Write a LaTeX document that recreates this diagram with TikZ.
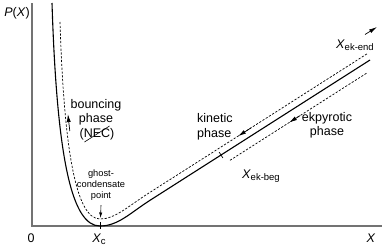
\documentclass[tikz,border=0pt]{standalone}
\usepackage{fontspec}
\setmainfont{Liberation Sans}
\usetikzlibrary{arrows.meta}
\newcommand{\Xsub}[1]{\textit{X}\kern-0.2pt\raisebox{-0.35ex}{\fontsize{9.5}{9.5}\selectfont #1}}

\begin{document}
\begin{tikzpicture}[x=1pt, y=-1pt,
    axis/.style={draw=black!55, line width=1.4pt},
    potential/.style={line width=1.1pt},
    track/.style={line width=0.7pt, dash pattern=on 2.2pt off 1.6pt},
    flow/.style={line width=0.7pt, -{Latex[length=8pt, width=4pt]}},
    lbl/.style={font=\fontsize{12.5}{14.5}\selectfont, align=center, inner sep=0pt},
    small/.style={font=\fontsize{9.3}{10.8}\selectfont, align=center, inner sep=0pt}]
    \useasboundingbox (0,0) rectangle (382,247);

    % Axes
    \coordinate (O) at (32,226);
    \coordinate (top) at (32,3);
    \coordinate (right) at (382,226);
    \draw[axis] (top) -- (O) -- (right);
    \node[lbl, anchor=east] (P) at (30,13) {\textit{P}(\textit{X})};
    \node[lbl, anchor=base] (zero) at (31,242) {0};
    \node[lbl, anchor=base] (Xlab) at (371,242) {\textit{X}};

    % P(X) curve with its minimum at X_c
    \coordinate (Xc) at (100,226);
    \coordinate (beg) at (221,155);
    \draw[potential] (52,3) .. controls (57,160) and (72,226) .. (Xc)
        .. controls (118,226) and (130,213.1) .. (150,200.3) -- (370,60);
    \draw[line width=0.7pt] (100,222) -- (100,229);
    \draw[line width=0.7pt] (219.1,152.1) -- (222.9,157.9);
    \node[lbl, anchor=base] (XcLab) at (99,242) {\Xsub{c}};

    % Trajectories (dashed)
    \draw[track] (60,22) .. controls (64,150) and (76,219) .. (100,219)
        .. controls (115,219) and (128,206.4) .. (148,193.6) -- (368,53.2);
    \draw[track] (230,160.3) -- (367,72.9);

    % Phase labels
    \node[lbl] (bounce) at (96,112.5) {bouncing\\phase};
    \node[lbl] (nec) at (97,134) {(NEC)};
    \draw[line width=0.6pt] ([xshift=5pt, yshift=-2pt]nec.south west) -- ([xshift=-5pt, yshift=2pt]nec.north east);
    \node[lbl, align=left, anchor=west] (kin) at (197,127) {kinetic\\phase};
    \node[lbl] (ekp) at (327,125.5) {ekpyrotic\\phase};
    \node[small, outer sep=5pt] (ghost) at (101,185) {ghost-\\condensate\\point};
    \node[lbl, anchor=base west] (begLab) at (242,178) {\Xsub{ek-beg}};
    \node[lbl, anchor=base west] (endLab) at (336,48) {\Xsub{ek-end}};

    % Arrows along the trajectories
    \coordinate (b1) at (69.8,131);
    \coordinate (b2) at (67.9,114);
    \draw[flow] (b1) -- (b2);
    \coordinate (k1) at (251,127.9);
    \coordinate (k2) at (238,136.2);
    \draw[flow] (k1) -- (k2);
    \coordinate (e1) at (300,115.6);
    \coordinate (e2) at (289,122.6);
    \draw[flow] (e1) -- (e2);
    \coordinate (n1) at (365,34.5);
    \coordinate (n2) at (377,27);
    \draw[flow] (n1) -- (n2);
    \coordinate (gcp) at (100.5,218);
    \draw[line width=0.6pt, -{Latex[length=5.5pt, width=3.2pt]}] (ghost.south) -- (gcp);
\end{tikzpicture}
\end{document}
